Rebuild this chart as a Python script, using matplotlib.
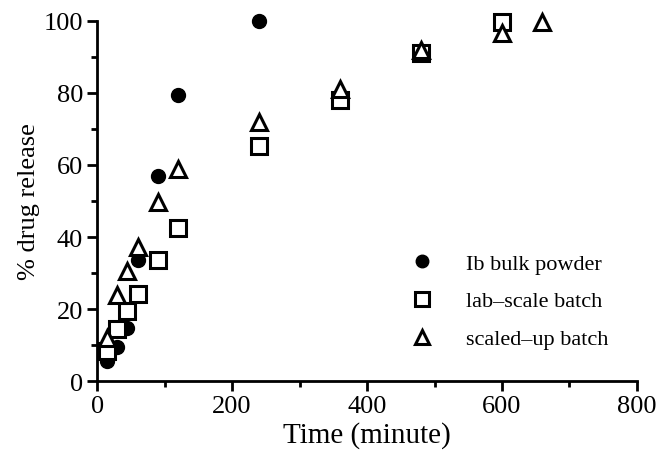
import numpy as np
import matplotlib
matplotlib.use('Agg')
import matplotlib.pyplot as plt
from matplotlib.ticker import MultipleLocator

plt.rcParams['font.family'] = ['Liberation Serif', 'DejaVu Serif']

# 释放数据 (time in minutes, % released)
t_bulk = [15, 30, 45, 60, 90, 120, 240]
y_bulk = [5.5, 9.4, 14.7, 33.5, 57, 79.5, 100]

t_lab = [15, 30, 45, 60, 90, 120, 240, 360, 480, 600]
y_lab = [8.3, 14.4, 19.4, 24.2, 33.6, 42.5, 65.3, 78, 91, 99.8]

t_up = [15, 30, 45, 60, 90, 120, 240, 360, 480, 600, 660]
y_up = [12, 24, 30.5, 37.2, 49.8, 58.8, 72, 81, 92, 96.5, 99.8]

labels = ['Ib bulk powder', 'lab\u2013scale batch', 'scaled\u2013up batch']

fig = plt.figure(figsize=(6.56, 4.56), dpi=100)
ax = fig.add_axes([0.148, 0.162, 0.823, 0.79])

ax.plot(t_bulk, y_bulk, 'o', ms=10, color='black', label=labels[0], clip_on=False)
ax.plot(t_lab, y_lab, 's', ms=11, mfc='white', mec='black', mew=2.2, label=labels[1], clip_on=False)
ax.plot(t_up, y_up, '^', ms=11, mfc='white', mec='black', mew=2.2, label=labels[2], clip_on=False)

ax.set_xlim(0, 800)
ax.set_ylim(0, 100)
ax.xaxis.set_major_locator(MultipleLocator(200))
ax.xaxis.set_minor_locator(MultipleLocator(100))
ax.yaxis.set_major_locator(MultipleLocator(20))
ax.yaxis.set_minor_locator(MultipleLocator(10))

for s in ['top', 'right']:
    ax.spines[s].set_visible(False)
for s in ['left', 'bottom']:
    ax.spines[s].set_linewidth(2)
ax.tick_params(which='major', direction='out', length=7, width=2, labelsize=19, pad=3)
ax.tick_params(which='minor', direction='out', length=4, width=2)

ax.set_xlabel('Time (minute)', fontsize=21, labelpad=3)
ax.set_ylabel('% drug release', fontsize=19, labelpad=3)

ax.legend(loc='center left', bbox_to_anchor=(0.524, 0.222), frameon=False,
          fontsize=16, handletextpad=0.95, labelspacing=0.78, markerscale=0.9)

fig.savefig('out.png', dpi=100)
